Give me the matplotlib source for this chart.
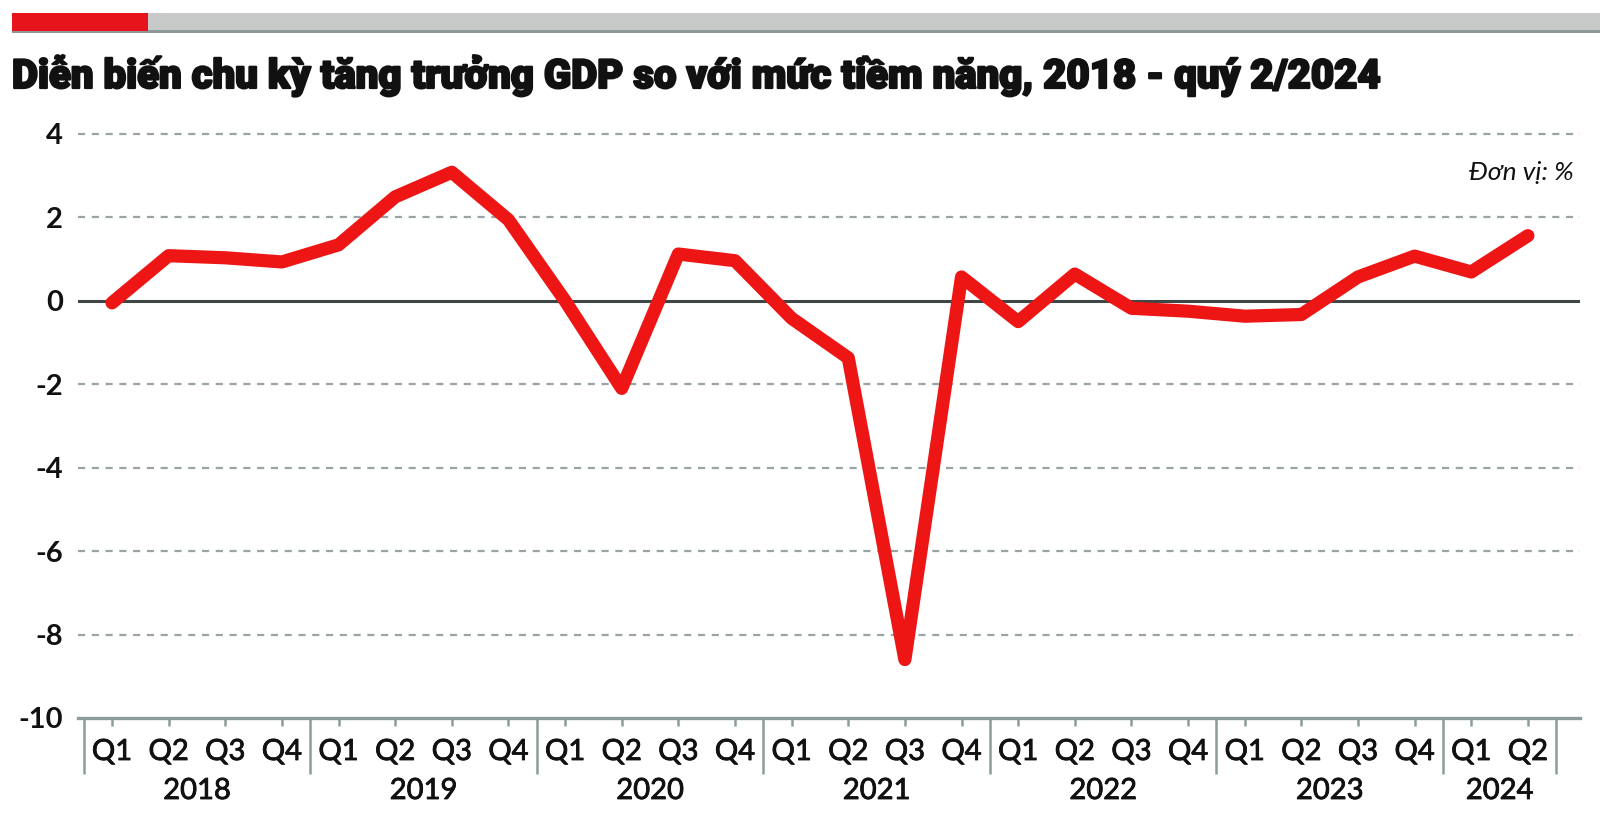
import numpy as np
import matplotlib
matplotlib.use("Agg")
import matplotlib.pyplot as plt
import matplotlib.transforms as mtransforms
import matplotlib.patheffects as pe
from matplotlib.patches import Rectangle

# data: GDP growth gap vs potential (%), 2018Q1 - 2024Q2
quarters = ["Q1", "Q2", "Q3", "Q4"] * 6 + ["Q1", "Q2"]
years = ["2018", "2019", "2020", "2021", "2022", "2023", "2024"]
gap = [-0.05, 1.08, 1.03, 0.93,
       1.34, 2.49, 3.08, 1.94,
       0.0, -2.1, 1.12, 0.96,
       -0.42, -1.37, -8.6, 0.57,
       -0.5, 0.64, -0.18, -0.25,
       -0.37, -0.33, 0.57, 1.07,
       0.69, 1.56]
yticks = [4, 2, 0, -2, -4, -6, -8, -10]
title = "Diễn biến chu kỳ tăng trưởng GDP so với mức tiềm năng, 2018 - quý 2/2024"
unit = "Đơn vị: %"

W, H = 1600, 813
fig = plt.figure(figsize=(W / 100, H / 100), dpi=100)
fig.patch.set_facecolor("white")

lab_font = ["Lato", "DejaVu Sans"]
ink = "#111111"

# header bar
fig.patches.append(Rectangle((12 / W, 1 - 33 / H), 1, 20 / H, transform=fig.transFigure,
                             facecolor="#c8c9c9", edgecolor="none"))
fig.patches.append(Rectangle((12 / W, 1 - 33 / H), 1, 3 / H, transform=fig.transFigure,
                             facecolor="#8e9898", edgecolor="none"))
fig.patches.append(Rectangle((12 / W, 1 - 31 / H), 136 / W, 18 / H, transform=fig.transFigure,
                             facecolor="#e8141b", edgecolor="none"))
fig.text(12 / W, 1 - 88 / H, title, fontsize=28.9, fontweight="black",
         family=["Roboto", "DejaVu Sans"], va="baseline", ha="left", color=ink,
         path_effects=[pe.withStroke(linewidth=1.6, foreground=ink)])

ax = fig.add_axes([78 / W, 95 / H, 1502 / W, 605 / H])
x = np.arange(len(gap))
ax.set_xlim(-0.6, 25.92)
ax.set_ylim(-10, 4.5)

for s in ["top", "right", "left"]:
    ax.spines[s].set_visible(False)
ax.spines["bottom"].set_color("#8c9c9c")
ax.spines["bottom"].set_linewidth(2.4)

for v in yticks:
    if v == 0:
        ax.axhline(v, color="#3e4646", lw=2.2, zorder=2)
    elif v != -10:
        ax.axhline(v, color="#9aa4a4", lw=1.6, ls=(0, (3.2, 3.0)), zorder=1)

ax.plot(x, gap, color="#ee1515", lw=9.5, solid_joinstyle="round",
        solid_capstyle="round", zorder=3)

ax.set_yticks(yticks)
ax.set_yticklabels([str(v) for v in yticks], fontsize=21, fontweight="bold",
                   family=lab_font, color=ink)
ax.tick_params(axis="y", length=0, pad=11)

ax.set_xticks(x)
ax.set_xticklabels([])
ax.tick_params(axis="x", which="major", length=6, width=1.8, color="#8c9c9c")
seps = [-0.5 + 4 * i for i in range(7)] + [25.5]
ax.set_xticks(seps, minor=True)
ax.tick_params(axis="x", which="minor", length=40, width=1.8, color="#8c9c9c")

trans = mtransforms.blended_transform_factory(ax.transData, ax.transAxes)
q_y = -34 / 605
yr_y = -73 / 605
for i, q in enumerate(quarters):
    ax.text(i, q_y, q, transform=trans, ha="center", va="center", fontsize=21,
            family=lab_font, color=ink,
            path_effects=[pe.withStroke(linewidth=0.6, foreground=ink)])
for k, yr in enumerate(years):
    idx = [i for i in range(len(gap)) if i // 4 == k]
    ax.text(np.mean(idx), yr_y, yr, transform=trans, ha="center", va="center",
            fontsize=21, family=lab_font, color=ink,
            path_effects=[pe.withStroke(linewidth=0.6, foreground=ink)])

fig.text(1574 / W, 1 - 173 / H, unit, ha="right", va="center", fontsize=19,
         style="italic", family=lab_font, color=ink)

fig.savefig("out.png", dpi=100)
